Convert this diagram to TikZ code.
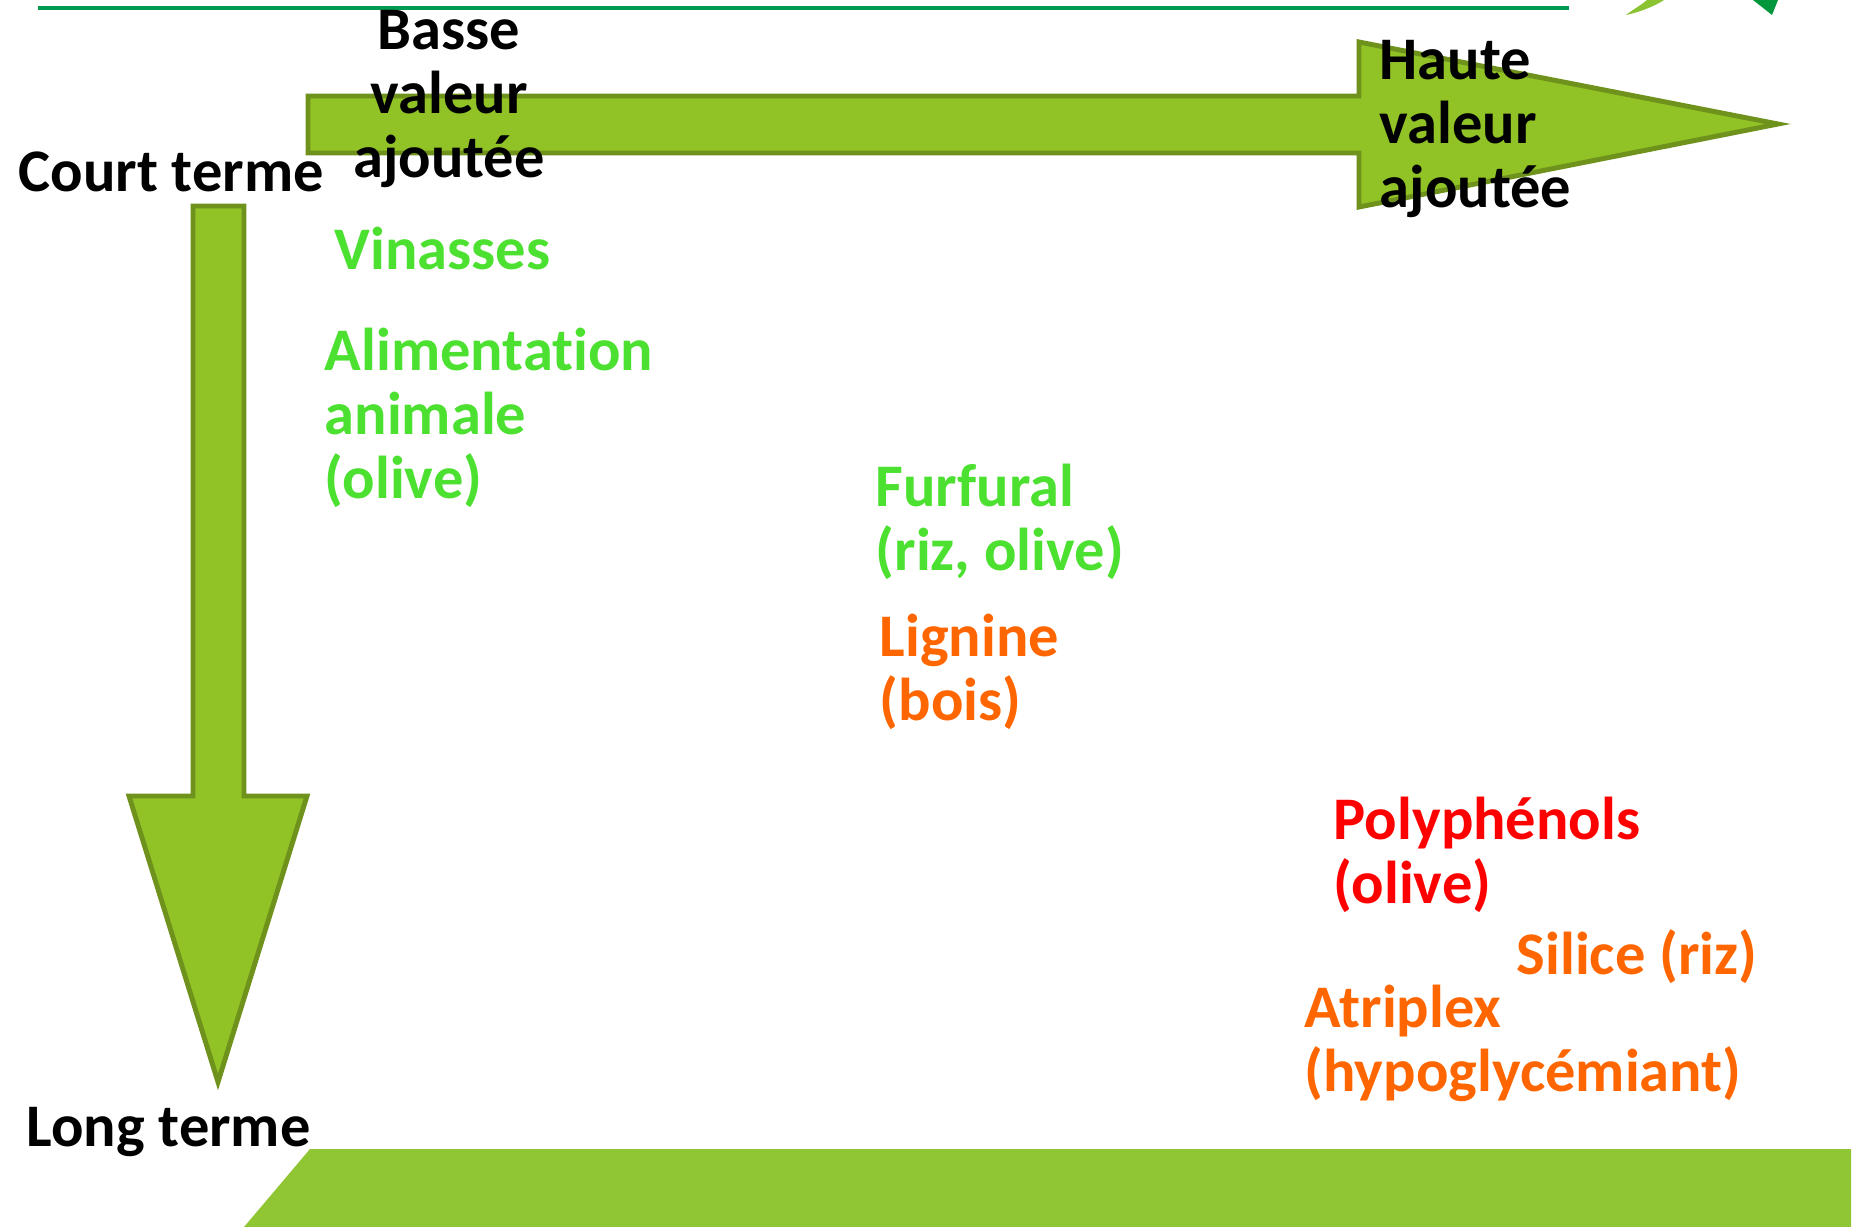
\documentclass[tikz,border=0pt]{standalone}
\usepackage{fontspec}
\setmainfont[Ligatures=NoCommon]{Carlito}
\usepackage{xcolor}
\definecolor{arrowfill}{RGB}{145,194,38}
\definecolor{arrowline}{RGB}{110,146,28}
\definecolor{bandgreen}{RGB}{144,198,51}
\definecolor{rulegreen}{RGB}{0,155,80}
\definecolor{logolight}{RGB}{140,195,50}
\definecolor{logodark}{RGB}{0,150,60}
\definecolor{txtgreen}{RGB}{76,224,48}
\definecolor{txtorange}{RGB}{255,102,0}
\definecolor{txtred}{RGB}{255,0,0}

\begin{document}
\begin{tikzpicture}[x=0.01cm, y=-0.01cm, every node/.style={font=\fontsize{17.2}{18.2}\selectfont\bfseries, inner sep=0pt}]
  \tikzset{
      axisarrow/.style={draw=arrowline, fill=arrowfill, line width=1.4pt, miter limit=20},
      axislabel/.style={anchor=west, align=left, text=black},
      lowitem/.style={anchor=west, align=left, text=txtgreen},
      miditem/.style={anchor=west, align=left, text=txtorange},
      highitem/.style={anchor=west, align=left, text=txtred}
  }
  \useasboundingbox (0,0) rectangle (1854,1227);

  % slide furniture
  \draw[rulegreen, line width=0.9pt] (38,8) -- (1569,8);
  \fill[logolight] (1626,15) .. controls (1640,12) and (1655,6) .. (1664,0) -- (1647,0) .. controls (1640,6) and (1632,10) .. cycle;
  \fill[logodark] (1753,0) -- (1772,15) -- (1778,0) -- cycle;
  \fill[bandgreen] (244,1227) -- (310,1149) -- (1851,1149) -- (1851,1227) -- cycle;

  % the two axes
  \draw[axisarrow] (308,96) -- (1359,96) -- (1359,42) -- (1778,124) -- (1359,207) -- (1359,153) -- (308,153) -- cycle;
  \draw[axisarrow] (193,206) -- (244,206) -- (244,796) -- (307,796) -- (218,1082) -- (129,796) -- (193,796) -- cycle;

  \node[axislabel] (court) at (18,172) {Court terme};
  \node[axislabel] (long) at (26,1132) {Long terme};
  \node[axislabel, anchor=center, align=center] (basse) at (449,99) {Basse\\valeur\\ajoutée};
  \node[axislabel] (haute) at (1379,129) {Haute\\valeur\\ajoutée};

  \node[lowitem] (vinasses) at (334,248) {Vinasses};
  \node[lowitem] (alim) at (324,418) {Alimentation\\animale\\(olive)};
  \node[lowitem] (furfural) at (875,522) {Furfural\\(riz, olive)};
  \node[miditem] (lignine) at (879,672) {Lignine\\(bois)};
  \node[highitem] (poly) at (1333,855) {Polyphénols\\(olive)};
  \node[miditem] (silice) at (1516,957) {Silice (riz)};
  \node[miditem] (atriplex) at (1304,1043) {Atriplex\\(hypoglycémiant)};
\end{tikzpicture}
\end{document}
